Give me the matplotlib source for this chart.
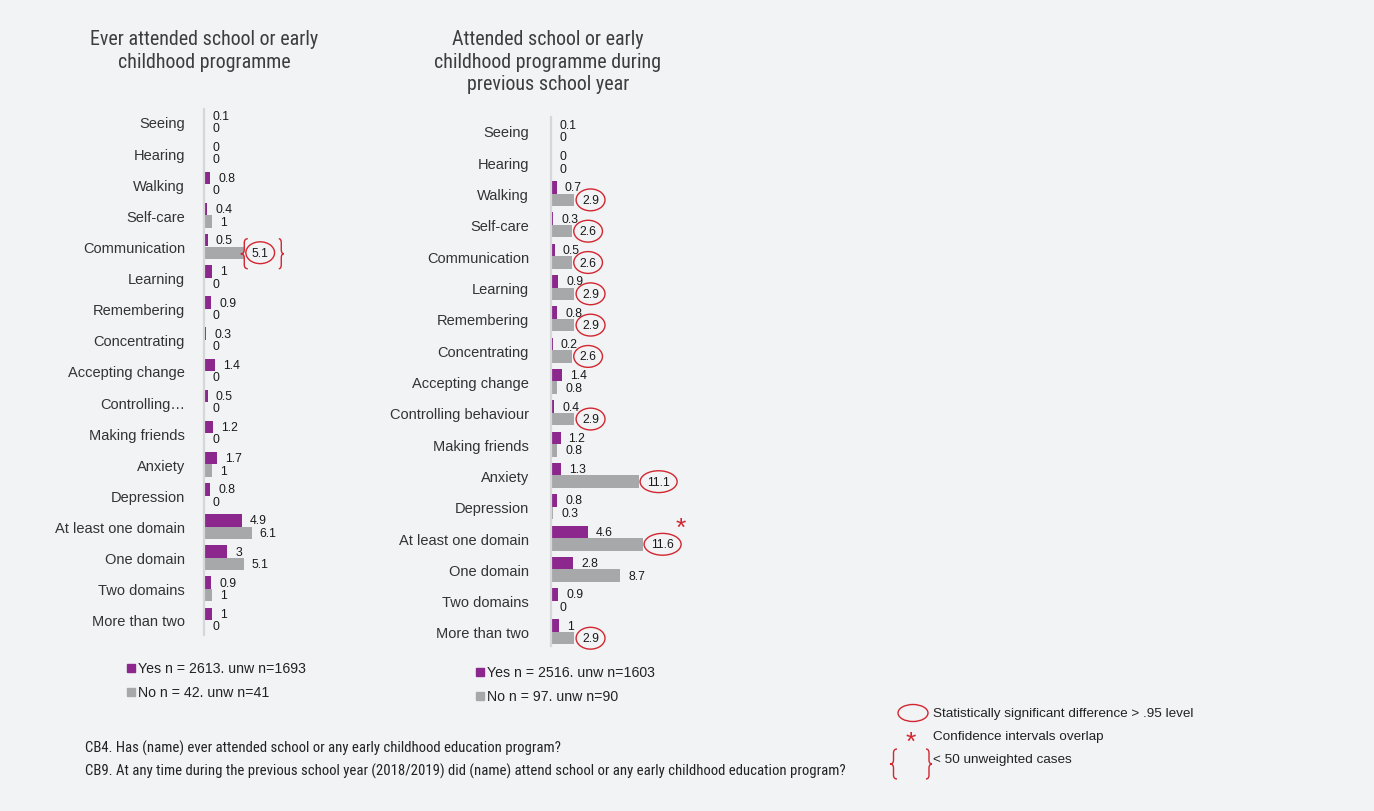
import os
import matplotlib
matplotlib.use('Agg')
import matplotlib.pyplot as plt
from matplotlib import font_manager as fm
from matplotlib.path import Path
from matplotlib.patches import PathPatch, Ellipse, Rectangle
from matplotlib.transforms import IdentityTransform

# Domains (rows, top to bottom)
domains_ever = ['Seeing', 'Hearing', 'Walking', 'Self-care', 'Communication',
                'Learning', 'Remembering', 'Concentrating', 'Accepting change',
                'Controlling\u2026', 'Making friends', 'Anxiety', 'Depression',
                'At least one domain', 'One domain', 'Two domains', 'More than two']
domains_prev = domains_ever[:9] + ['Controlling behaviour'] + domains_ever[10:]

# CB4 - ever attended (%)
ever_yes = [0.1, 0, 0.8, 0.4, 0.5, 1, 0.9, 0.3, 1.4, 0.5, 1.2, 1.7, 0.8, 4.9, 3, 0.9, 1]
ever_no = [0, 0, 0, 1, 5.1, 0, 0, 0, 0, 0, 0, 1, 0, 6.1, 5.1, 1, 0]
ever_small_n = ['Communication']

# CB9 - attended previous school year (%)
prev_yes = [0.1, 0, 0.7, 0.3, 0.5, 0.9, 0.8, 0.2, 1.4, 0.4, 1.2, 1.3, 0.8, 4.6, 2.8, 0.9, 1]
prev_no = [0, 0, 2.9, 2.6, 2.6, 2.9, 2.9, 2.6, 0.8, 2.9, 0.8, 11.1, 0.3, 11.6, 8.7, 0, 2.9]
prev_signif = ['Walking', 'Self-care', 'Communication', 'Learning', 'Remembering',
               'Concentrating', 'Controlling behaviour', 'Anxiety',
               'At least one domain', 'More than two']
prev_overlap = ['At least one domain']

legend_ever = ['Yes n = 2613. unw n=1693', 'No n = 42. unw n=41']
legend_prev = ['Yes n = 2516. unw n=1603', 'No n = 97. unw n=90']

PURPLE = '#8b278d'
GREY = '#a7a8aa'
RED = '#d22630'
BG = '#f2f3f5'
W, H = 1374, 812


def narrow_font():
    files = [f.fname for f in fm.fontManager.ttflist]
    for key in ['LiberationSansNarrow-Regular', 'RobotoCondensed-Regular',
                'DejaVuSansCondensed.ttf', 'Narrow', 'Condensed']:
        for p in files:
            b = os.path.basename(p)
            if key in b and 'Bold' not in b and 'Italic' not in b and 'Oblique' not in b:
                return p
    return None


NARROW = narrow_font()


def nfont(size):
    if NARROW:
        return fm.FontProperties(fname=NARROW, size=size)
    return fm.FontProperties(family='DejaVu Sans', size=size)


plt.rcParams['font.family'] = ['Liberation Sans', 'DejaVu Sans']

fig = plt.figure(figsize=(W / 100, H / 100), dpi=100, facecolor=BG)


def fx(px):
    return px / W


def fy(py):
    return 1 - py / H


def brace(xl, xr, yt, yb, side='left'):
    # curly brace in pixel coords (y from top), tip on the given side
    ym = (yt + yb) / 2
    xm = (xl + xr) / 2
    if side == 'left':
        tip, back = xl, xr
    else:
        tip, back = xr, xl
    pts = [(back, yt), (xm, yt), (xm, yt + 4), (xm, ym - 4), (xm, ym), (tip, ym),
           (xm, ym), (xm, ym + 4), (xm, yb - 4), (xm, yb), (back, yb)]
    codes = [Path.MOVETO, Path.CURVE3, Path.CURVE3, Path.LINETO, Path.CURVE3, Path.CURVE3,
             Path.CURVE3, Path.CURVE3, Path.LINETO, Path.CURVE3, Path.CURVE3]
    verts = [(x, H - y) for x, y in pts]
    fig.patches.append(PathPatch(Path(verts, codes), fc='none', ec=RED, lw=1.0,
                                 transform=IdentityTransform(), figure=fig))


def panel(x0, top, bottom, first_row, row_px, px_per_unit, labels, yes, no,
          label_gap, signif=(), overlap=(), small=()):
    width = 160
    ax = fig.add_axes([fx(x0), fy(bottom), fx(width), (bottom - top) / H])
    ax.set_facecolor('none')
    y0 = -(first_row - top) / row_px
    y1 = (bottom - first_row) / row_px
    ax.set_ylim(y1, y0)
    ax.set_xlim(0, width / px_per_unit)
    for s in ['top', 'right', 'bottom']:
        ax.spines[s].set_visible(False)
    ax.spines['left'].set_color('#d6d7d9')
    ax.spines['left'].set_linewidth(1.6)
    ax.set_xticks([])
    ax.set_yticks(range(len(labels)))
    ax.set_yticklabels(labels, fontsize=10.5, color='#333333')
    ax.tick_params(axis='y', length=0, pad=label_gap * 0.72)

    rows = list(range(len(labels)))
    h = 0.4
    ax.barh([r - h / 2 for r in rows], yes, height=h, color=PURPLE)
    ax.barh([r + h / 2 for r in rows], no, height=h, color=GREY)

    ring = dict(boxstyle='ellipse,pad=0.14', fc='none', ec=RED, lw=1.0)
    for r, lab, a, b in zip(rows, labels, yes, no):
        ax.annotate(f'{a:g}', (a, r - h / 2), xytext=(8, 0), textcoords='offset pixels',
                    ha='left', va='center', fontsize=8.8, color='#1a1a1a')
        circled = lab in signif or lab in small
        ax.annotate(f'{b:g}', (b, r + h / 2), xytext=(8, 0), textcoords='offset pixels',
                    ha='left', va='center', fontsize=8.8, color='#1a1a1a',
                    bbox=ring if circled else None)
        if lab in overlap:
            ax.annotate('*', (b, r + h / 2), xytext=(38, 16), textcoords='offset pixels',
                        ha='center', va='center', fontsize=19, color=RED)
        if lab in small:
            bx, by = ax.transData.transform((b, r + h / 2))
            by = H - by
            brace(bx - 3, bx + 4, by - 14, by + 16, 'left')
            brace(bx + 35, bx + 40, by - 14, by + 16, 'right')
    return ax


ax1 = panel(204, 110, 636, 123, 31.125, 7.8, domains_ever, ever_yes, ever_no, 19,
            small=ever_small_n)
ax2 = panel(551, 118, 647, 132, 31.31, 7.95, domains_prev, prev_yes, prev_no, 22,
            signif=prev_signif, overlap=prev_overlap)

# panel titles
fig.text(fx(204), fy(51), 'Ever attended school or early\nchildhood programme',
         ha='center', va='center', fontproperties=nfont(14.4), color='#3d3d3d',
         linespacing=1.25)
fig.text(fx(548), fy(62), 'Attended school or early\nchildhood programme during\nprevious school year',
         ha='center', va='center', fontproperties=nfont(14.4), color='#3d3d3d',
         linespacing=1.25)


def legend(x, y, labels):
    for i, (lab, c) in enumerate(zip(labels, [PURPLE, GREY])):
        yy = y + i * 24
        fig.patches.append(Rectangle((fx(x), fy(yy + 4)), fx(8), 8 / H, color=c,
                                     transform=fig.transFigure, figure=fig))
        fig.text(fx(x + 11), fy(yy), lab, ha='left', va='center', fontsize=10.2,
                 color='#222222')


legend(127, 669, legend_ever)
legend(476, 673, legend_prev)

# key
fig.patches.append(Ellipse((fx(913), fy(714)), fx(30), 17 / H, fc='none', ec=RED, lw=1.0,
                           transform=fig.transFigure, figure=fig))
fig.text(fx(933), fy(714), 'Statistically significant difference > .95 level',
         ha='left', va='center', fontsize=9.7, color='#222222')
fig.text(fx(911), fy(743), '*', ha='center', va='center', fontsize=19, color=RED)
fig.text(fx(933), fy(737), 'Confidence intervals overlap',
         ha='left', va='center', fontsize=9.7, color='#222222')
brace(890, 897, 750, 780, 'left')
brace(926, 932, 750, 780, 'right')
fig.text(fx(933), fy(760), '< 50 unweighted cases',
         ha='left', va='center', fontsize=9.7, color='#222222')

# question notes
fig.text(fx(85), fy(748),
         'CB4. Has (name) ever attended school or any early childhood education program?',
         ha='left', va='center', fontproperties=nfont(10.65), color='#222222')
fig.text(fx(85), fy(771),
         'CB9. At any time during the previous school year (2018/2019) did (name) attend '
         'school or any early childhood education program?',
         ha='left', va='center', fontproperties=nfont(10.65), color='#222222')

fig.savefig('out.png', dpi=100, facecolor=BG)
